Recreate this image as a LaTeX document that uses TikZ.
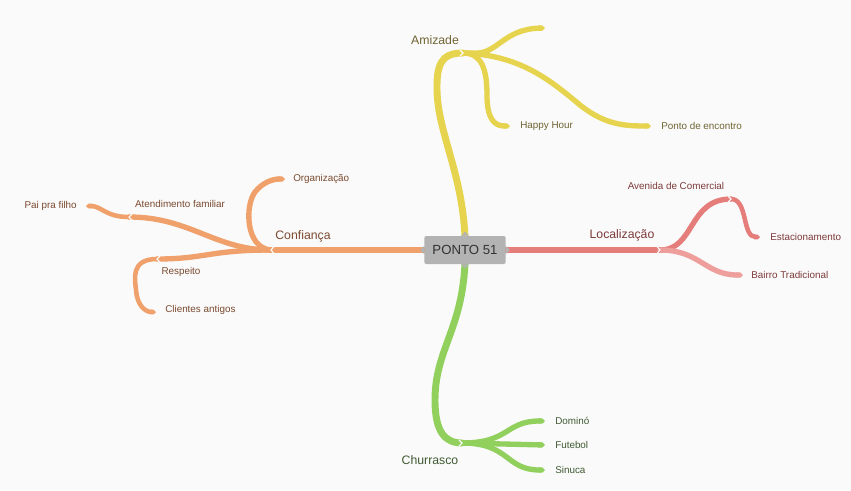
\documentclass[tikz,border=0pt]{standalone}
\usepackage{fontspec}
\usetikzlibrary{arrows.meta}
\setmainfont{Liberation Sans}
\begin{document}
\begin{tikzpicture}[x=0.75pt,y=-0.75pt,
  trunk/.style={line width=5.2pt,line cap=round},
  twig/.style={line width=4pt,line cap=round},
  leaf/.style={line width=3.4pt,line cap=round},
  tip/.style={-{Triangle Cap[]}},
  mainlbl/.style={font=\fontsize{9.2}{10}\selectfont,inner sep=0pt},
  sublbl/.style={font=\fontsize{7.4}{9}\selectfont,inner sep=0pt},
  notch/.style={white,line width=0.8pt},
]
\definecolor{bg}{HTML}{FAFAFA}
\definecolor{yel}{HTML}{E6D34E}
\definecolor{yeltx}{HTML}{6F6433}
\definecolor{red}{HTML}{E57D7B}
\definecolor{pink}{HTML}{EE9F9C}
\definecolor{redtx}{HTML}{7D3A3A}
\definecolor{ora}{HTML}{EFA06B}
\definecolor{oratx}{HTML}{7A4A30}
\definecolor{gre}{HTML}{92D05E}
\definecolor{gretx}{HTML}{3F5A32}
\definecolor{box}{HTML}{B3B3B3}
\fill[bg] (0,0) rectangle (851,490);
\useasboundingbox (0,0) rectangle (851,490);

% junction coordinates
\coordinate (cT) at (465,237);
\coordinate (cB) at (465,263);
\coordinate (cL) at (426,250);
\coordinate (cR) at (505,250);
\coordinate (jA) at (463,53);
\coordinate (jL) at (660,250);
\coordinate (jAv) at (731,199);
\coordinate (jC) at (271,250);
\coordinate (jAt) at (129,217);
\coordinate (jR) at (157,259);
\coordinate (jCh) at (462,443);
% leaf ends
\coordinate (eTop) at (545,28);
\coordinate (eHH) at (510,126);
\coordinate (ePE) at (651,126);
\coordinate (eEs) at (760,237);
\coordinate (eBa) at (743,275);
\coordinate (eOr) at (285,179);
\coordinate (ePai) at (86,206);
\coordinate (eCl) at (156,312);
\coordinate (eDo) at (545,421);
\coordinate (eFu) at (545,445);
\coordinate (eSi) at (545,470);

% ---- yellow
\draw[yel,trunk] (cT) .. controls (462,170) and (436,130) .. (437,85) .. controls (437,57) and (448,53) .. (jA);
\draw[yel,twig,tip] (jA) -- (478,53) .. controls (498,52) and (505,29) .. (eTop);
\draw[yel,twig,tip] (jA) .. controls (482,53) and (487,70) .. (487,95) .. controls (487,120) and (495,126) .. (eHH);
\draw[yel,twig,tip] (jA) .. controls (520,55) and (550,80) .. (580,105) .. controls (605,125) and (625,126) .. (ePE);
% ---- red
\draw[red,trunk] (cR) -- (jL);
\draw[red,twig] (jL) .. controls (695,250) and (688,199) .. (jAv);
\draw[red,leaf,tip] (jAv) .. controls (748,199) and (742,237) .. (eEs);
\draw[pink,twig,tip] (jL) .. controls (700,250) and (705,275) .. (eBa);
% ---- orange
\draw[ora,trunk] (cL) -- (jC);
\draw[ora,twig,tip] (jC) .. controls (245,248) and (245,205) .. (255,192) .. controls (263,182) and (273,179) .. (eOr);
\draw[ora,twig] (jC) .. controls (215,250) and (190,217) .. (jAt);
\draw[ora,leaf,tip] (jAt) .. controls (105,217) and (102,206) .. (ePai);
\draw[ora,twig] (jC) .. controls (210,250) and (205,259) .. (jR);
\draw[ora,leaf,tip] (jR) .. controls (130,259) and (135,280) .. (136,290) .. controls (137,305) and (145,312) .. (eCl);
% ---- green
\draw[gre,trunk] (cB) .. controls (462,330) and (435,350) .. (435,400) .. controls (435,432) and (445,443) .. (jCh);
\draw[gre,twig,tip] (jCh) .. controls (510,443) and (505,421) .. (eDo);
\draw[gre,twig,tip] (jCh) -- (eFu);
\draw[gre,twig,tip] (jCh) .. controls (510,443) and (505,470) .. (eSi);

% notches
\draw[notch] (jA)++(-3,-3) -- ++(3,3) -- ++(-3,3);
\draw[notch] (jL)++(-3,-3.5) -- ++(3,3.5) -- ++(-3,3.5);
\draw[notch] (jAv)++(-3,-3) -- ++(3,3) -- ++(-3,3);
\draw[notch] (jC)++(3,-3.5) -- ++(-3,3.5) -- ++(3,3.5);
\draw[notch] (jAt)++(3,-3) -- ++(-3,3) -- ++(3,3);
\draw[notch] (jR)++(3,-3) -- ++(-3,3) -- ++(3,3);
\draw[notch] (jCh)++(-3,-3) -- ++(3,3) -- ++(-3,3);

% center
\node[fill=box,rounded corners=1.5pt,minimum width=61pt,minimum height=21pt,inner sep=0pt,
  font=\fontsize{9.9}{11}\selectfont,text=black!80] (c) at (465,250) {PONTO 51};
\fill[box] (c.north)++(-4,0) -- ++(4,-4) -- ++(4,4) -- cycle;
\fill[box] (c.south)++(-4,0) -- ++(4,4) -- ++(4,-4) -- cycle;
\fill[box] (c.west)++(0,-4) -- ++(-4,4) -- ++(4,4) -- cycle;
\fill[box] (c.east)++(0,-4) -- ++(4,4) -- ++(-4,4) -- cycle;

% labels
\node[mainlbl,text=yeltx] (amizade) at (435,40) {Amizade};
\node[sublbl,text=yeltx,anchor=west] (hh) at (520,126) {Happy Hour};
\node[sublbl,text=yeltx,anchor=west] (pe) at (661,126) {Ponto de encontro};

\node[mainlbl,text=redtx] (loc) at (622,235) {Localização};
\node[sublbl,text=redtx] (av) at (676,186) {Avenida de Comercial};
\node[sublbl,text=redtx,anchor=west] (est) at (770,237) {Estacionamento};
\node[sublbl,text=redtx,anchor=west] (bai) at (751,275) {Bairro Tradicional};

\node[mainlbl,text=oratx] (conf) at (303,236) {Confiança};
\node[sublbl,text=oratx,anchor=west] (org) at (293,179) {Organização};
\node[sublbl,text=oratx] (at) at (180,204) {Atendimento familiar};
\node[sublbl,text=oratx,anchor=east] (pai) at (77,206) {Pai pra filho};
\node[sublbl,text=oratx] (resp) at (181,272) {Respeito};
\node[sublbl,text=oratx,anchor=west] (cli) at (165,310) {Clientes antigos};

\node[mainlbl,text=gretx] (chu) at (430,460) {Churrasco};
\node[sublbl,text=gretx,anchor=west] (dom) at (555,421) {Dominó};
\node[sublbl,text=gretx,anchor=west] (fut) at (555,445) {Futebol};
\node[sublbl,text=gretx,anchor=west] (sin) at (555,470) {Sinuca};
\end{tikzpicture}
\end{document}
